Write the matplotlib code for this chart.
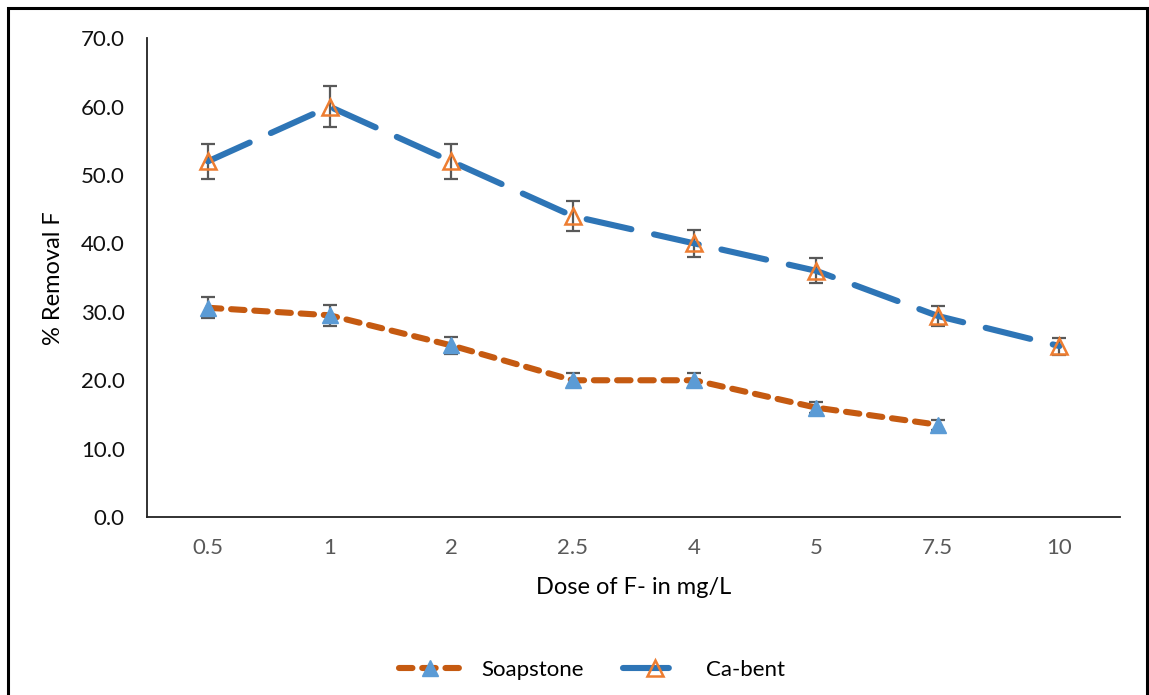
import matplotlib.pyplot as plt
import numpy as np
from matplotlib.patches import Rectangle

plt.rcParams["font.family"] = ["Lato", "DejaVu Sans"]

doses = ["0.5", "1", "2", "2.5", "4", "5", "7.5", "10"]

soapstone = [30.6, 29.5, 25.1, 20.0, 20.0, 16.0, 13.5]
soapstone_err = [1.5, 1.5, 1.25, 1.0, 1.0, 0.8, 0.7]

ca_bent = [52.0, 60.0, 52.0, 44.0, 40.0, 36.0, 29.4, 25.0]
ca_bent_err = [2.6, 3.0, 2.6, 2.2, 2.0, 1.8, 1.5, 1.25]

y_ticks = [0, 10, 20, 30, 40, 50, 60, 70]


def main() -> None:
    fig = plt.figure(figsize=(11.49, 6.95), dpi=100)
    ax = fig.add_axes([0.128, 0.256, 0.847, 0.689])

    x_all = np.arange(len(doses))
    x_soap = x_all[: len(soapstone)]

    ax.plot(x_soap, soapstone, color="#C55A11", lw=4.4,
            dashes=(2.2, 1.6), dash_capstyle="round",
            marker="^", ms=11.5, mfc="#5B9BD5", mec="#5B9BD5",
            label="Soapstone", zorder=3)
    ax.errorbar(x_soap, soapstone, yerr=soapstone_err, fmt="none",
                ecolor="#595959", elinewidth=1.6, capsize=5, capthick=1.6, zorder=2)

    ax.plot(x_all, ca_bent, color="#2E75B6", lw=4.4,
            dashes=(7.5, 3.8), dash_capstyle="round",
            marker="^", ms=11.5, mfc="none", mec="#ED7D31", mew=1.8,
            label="Ca-bent", zorder=3)
    ax.errorbar(x_all, ca_bent, yerr=ca_bent_err, fmt="none",
                ecolor="#595959", elinewidth=1.6, capsize=5, capthick=1.6, zorder=2)

    ax.set_xlim(-0.5, len(doses) - 0.5)
    ax.set_ylim(0, 70)
    ax.set_xticks(x_all)
    ax.set_xticklabels(doses)
    ax.set_yticks(y_ticks)
    ax.set_yticklabels([f"{v:.1f}" for v in y_ticks])
    ax.tick_params(axis="both", length=0, labelsize=16)
    ax.tick_params(axis="x", pad=15, labelcolor="#595959")
    ax.tick_params(axis="y", pad=16, labelcolor="#111111")

    for side in ("top", "right"):
        ax.spines[side].set_visible(False)
    for side in ("left", "bottom"):
        ax.spines[side].set_color("#222222")
        ax.spines[side].set_linewidth(1.3)

    ax.set_xlabel("Dose of F- in mg/L", fontsize=17, labelpad=14)
    ax.set_ylabel("% Removal F", fontsize=17, labelpad=12)

    fig.legend(loc="center", bbox_to_anchor=(0.515, 0.036), ncol=2,
               frameon=False, fontsize=16, handlelength=2.8,
               handletextpad=0.9, columnspacing=1.8)

    # outer frame around the chart area
    fig.patches.append(Rectangle((0.007, -0.05), 0.991, 1.038,
                                 transform=fig.transFigure, fill=False,
                                 edgecolor="black", lw=2.2))

    fig.savefig("out.png", dpi=100)


if __name__ == "__main__":
    main()
